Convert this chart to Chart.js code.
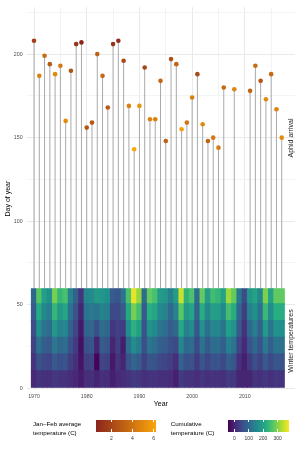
<!DOCTYPE html>
<html lang="en">
<head>
<meta charset="utf-8">
<title>Aphid arrival and winter temperatures</title>
<script src="https://cdn.jsdelivr.net/npm/chart.js@4.4.0/dist/chart.umd.min.js"></script>
<style>
  body { margin: 0; background: #fff; font-family: "Liberation Sans", Arial, sans-serif; }
  #wrap { position: relative; width: 299px; height: 449px; overflow: hidden; }
  .note { position: absolute; font-size: 7px; line-height: 1; color: #1a1a1a; white-space: nowrap;
          transform: translate(-50%, -50%) rotate(-90deg); }
  .legtitle { position: absolute; font-size: 6.2px; line-height: 8.5px; color: #000; white-space: nowrap; }
  .cbar { position: absolute; }
  .cbtick { position: absolute; width: 0.8px; background: #fff; }
  .cblab { position: absolute; font-size: 5px; line-height: 6px; color: #333; transform: translateX(-50%); white-space: nowrap; }
</style>
</head>
<body>
<div id="wrap">
  <canvas id="chart" width="299" height="449"></canvas>
  <div class="note" id="noteAphid">Aphid arrival</div>
  <div class="note" id="noteWinter">Winter temperatures</div>
  <div class="legtitle" style="left:33px; top:420.3px">Jan–Feb average<br>temperature (C)</div>
  <div class="cbar" id="tempBar" style="left:96px; top:420px; width:59.7px; height:11.7px"></div>
  <div class="legtitle" style="left:170.7px; top:420.3px">Cumulative<br>temperature (C)</div>
  <div class="cbar" id="heatBar" style="left:228px; top:420px; width:61px; height:11.7px"></div>
</div>
<script>
  // years on the x axis
  const years = [1970, 1971, 1972, 1973, 1974, 1975, 1976, 1977, 1978, 1979,
                 1980, 1981, 1982, 1983, 1984, 1985, 1986, 1987, 1988, 1989,
                 1990, 1991, 1992, 1993, 1994, 1995, 1996, 1997, 1998, 1999,
                 2000, 2001, 2002, 2003, 2004, 2005, 2006, 2007, 2008, 2009,
                 2010, 2011, 2012, 2013, 2014, 2015, 2016, 2017];

  // day of year of aphid arrival (null = no record)
  const arrivalDay = [208, 187, 199, 194, 188, 193, 160, 190, 206, 207,
                      156, 159, 200, 187, 168, 206, 208, 196, 169, 143,
                      169, 192, 161, 161, 184, 148, 197, 194, 155, 159,
                      174, 188, 158, 148, 150, 144, 180, null, 179, null,
                      null, 178, 193, 184, 173, 188, 167, 150];

  // Jan-Feb average temperature (C), colours the points
  const janFebTemp = [1.7, 4.6, 3.6, 2.9, 5.0, 4.2, 5.0, 2.5, 1.2, 0.55,
                      2.6, 2.8, 3.2, 3.5, 2.9, 1.1, 0.9, 2.2, 4.6, 6.2,
                      5.4, 2.0, 4.8, 4.6, 3.4, 3.2, 2.4, 3.4, 6.0, 4.1,
                      4.5, 2.2, 4.9, 3.3, 4.2, 4.3, 3.6, 5.5, 4.8, 2.2,
                      1.0, 3.3, 3.6, 2.7, 5.0, 3.6, 4.7, 5.0];

  // cumulative winter temperature (C) per block of days, one value per year
  const dayEdges = [0.5, 10.5, 20.5, 30.5, 40.5, 50.5, 59.5];
  const cumDays01to10 = [5, 20, 15, 15, 25, 20, 20, 10, 5, -10,
                         10, 15, 0, 15, 10, -5, 5, 10, 20, 30,
                         25, 15, 20, 20, 15, 15, 10, -5, 30, 20,
                         20, 10, 25, 15, 20, 20, 15, 30, 25, 0,
                         0, 0, 20, 15, 25, 15, 25, 20];
  const cumDays11to20 = [22, 65, 50, 45, 75, 60, 65, 35, 15, -20,
                         35, 40, -40, 45, 40, -15, 20, 0, 65, 95,
                         80, 40, 70, 65, 50, 45, 35, 10, 90, 60,
                         65, 30, 70, 45, 65, 65, 50, 85, 70, 15,
                         -5, 30, 60, 40, 75, 50, 70, 65];
  const cumDays21to30 = [40, 115, 85, 75, 125, 100, 110, 60, 30, -25,
                         60, 70, 0, 80, 70, 0, 35, -10, 110, 160,
                         135, 60, 120, 110, 85, 80, 60, 50, 150, 100,
                         110, 50, 120, 75, 110, 110, 85, 140, 120, 45,
                         5, 65, 100, 65, 130, 85, 120, 115];
  const cumDays31to40 = [58, 165, 120, 105, 180, 145, 155, 90, 45, -15,
                         90, 100, 60, 110, 100, 25, 40, 30, 160, 225,
                         195, 65, 170, 155, 120, 110, 80, 100, 210, 140,
                         160, 70, 170, 110, 150, 150, 120, 195, 170, 75,
                         20, 100, 135, 90, 185, 120, 170, 165];
  const cumDays41to50 = [78, 215, 155, 135, 235, 185, 205, 115, 65, 0,
                         120, 130, 120, 145, 135, 50, 50, 75, 210, 290,
                         250, 75, 220, 205, 155, 145, 100, 145, 270, 180,
                         205, 90, 220, 150, 195, 190, 155, 250, 220, 100,
                         35, 140, 165, 115, 240, 160, 220, 220];
  const cumDays51to59 = [98, 265, 195, 165, 290, 235, 255, 145, 88, 20,
                         148, 158, 185, 178, 168, 78, 68, 118, 255, 365,
                         310, 105, 275, 255, 188, 178, 138, 188, 345, 228,
                         258, 108, 278, 188, 248, 235, 198, 315, 278, 128,
                         55, 178, 198, 148, 295, 198, 275, 275];
  const cumRows = [cumDays01to10, cumDays11to20, cumDays21to30, cumDays31to40, cumDays41to50, cumDays51to59];

  // legend ticks and colour limits
  const tempTicks = [2, 4, 6];
  const tempLimits = [0.55, 6.2];
  const heatTicks = [0, 100, 200, 300];
  const heatLimits = [-43.5, 378];

  // colour scales
  const tempLow = [139, 37, 28], tempHigh = [250, 165, 10];
  const viridis = ['#440154', '#472c7a', '#3b518b', '#2c718e', '#21908d', '#27ad81', '#5cc863', '#aadc32', '#fde725'];

  function hexRgb(h) {
    return [parseInt(h.slice(1, 3), 16), parseInt(h.slice(3, 5), 16), parseInt(h.slice(5, 7), 16)];
  }
  function mix(a, b, t) {
    return 'rgb(' + a.map((v, k) => Math.round(v + (b[k] - v) * t)).join(',') + ')';
  }
  function tempColor(v) {
    let t = (v - tempLimits[0]) / (tempLimits[1] - tempLimits[0]);
    t = Math.max(0, Math.min(1, t));
    return mix(tempLow, tempHigh, t);
  }
  const viridisRgb = viridis.map(hexRgb);
  function heatColor(v) {
    let t = (v - heatLimits[0]) / (heatLimits[1] - heatLimits[0]);
    t = Math.max(0, Math.min(1, t)) * (viridisRgb.length - 1);
    const i = Math.min(Math.floor(t), viridisRgb.length - 2);
    return mix(viridisRgb[i], viridisRgb[i + 1], t - i);
  }

  // points and stems
  var pointData = [], pointColors = [], stemData = [];
  for (var i = 0; i < years.length; i++) {
    if (arrivalDay[i] == null) continue;
    pointData.push({x: years[i], y: arrivalDay[i]});
    pointColors.push(tempColor(janFebTemp[i]));
    stemData.push({x: years[i], y: [0, arrivalDay[i]]});
  }

  var heatSets = cumRows.map(function (row, k) {
    return {
      type: 'bar',
      data: years.map((yr, j) => ({x: yr, y: [dayEdges[k], dayEdges[k + 1]]})),
      backgroundColor: row.map(heatColor),
      borderWidth: 0,
      grouped: false,
      barPercentage: 1,
      categoryPercentage: 1,
      inflateAmount: 0.5
    };
  });

  Chart.defaults.font.family = "'Liberation Sans', Arial, sans-serif";
  var majorGrid = '#e9e9e9', minorGrid = '#f4f4f4';

  var ctx = document.getElementById('chart').getContext('2d');
  var chart = new Chart(ctx, {
    type: 'bar',
    data: {
      datasets: [
        {
          type: 'scatter',
          data: pointData,
          pointBackgroundColor: pointColors,
          pointBorderWidth: 0,
          pointRadius: 2.3
        }
      ].concat(heatSets).concat([
        {
          type: 'bar',
          data: stemData,
          backgroundColor: '#a9a9a9',
          borderWidth: 0,
          barThickness: 1,
          grouped: false,
          inflateAmount: 0
        }
      ])
    },
    options: {
      responsive: false,
      animation: false,
      devicePixelRatio: 1,
      layout: {padding: {left: 0, top: 4, right: 4, bottom: 40}},
      plugins: {legend: {display: false}, tooltip: {enabled: false}},
      scales: {
        x: {
          type: 'linear',
          min: 1968.61,
          max: 2019.52,
          offset: false,
          border: {display: false},
          grid: {
            offset: false,
            drawTicks: false,
            color: c => (c.tick && c.tick.value % 10 === 0) ? majorGrid : minorGrid
          },
          ticks: {
            stepSize: 5,
            includeBounds: false,
            autoSkip: false,
            maxRotation: 0,
            padding: 3,
            color: '#4d4d4d',
            font: {size: 5.3},
            callback: v => v % 10 === 0 ? String(v) : ''
          },
          title: {display: true, text: 'Year', color: '#000', font: {size: 7}, padding: {top: 0, bottom: 0.8}},
          afterFit: s => { s.height = 19; }
        },
        y: {
          min: -1.1,
          max: 228.1,
          border: {display: false},
          grid: {
            drawTicks: false,
            color: c => (c.tick && c.tick.value % 50 === 0) ? majorGrid : minorGrid
          },
          ticks: {
            stepSize: 25,
            includeBounds: false,
            padding: 4,
            color: '#4d4d4d',
            font: {size: 5.3},
            callback: v => v % 50 === 0 ? String(v) : ''
          },
          title: {display: true, text: 'Day of year', color: '#000', font: {size: 7}, padding: {top: 3.8, bottom: 0}},
          afterFit: s => { s.width = 26.7; }
        }
      }
    }
  });

  // annotations placed through the scales
  function place(id, x, y) {
    var el = document.getElementById(id);
    el.style.left = x + 'px';
    el.style.top = y + 'px';
  }
  place('noteAphid', chart.scales.x.getPixelForValue(2018.6), chart.scales.y.getPixelForValue(150));
  place('noteWinter', chart.scales.x.getPixelForValue(2018.6), chart.scales.y.getPixelForValue(28));

  // colour bar legends
  function colourBar(id, limits, ticks, gradient) {
    var bar = document.getElementById(id);
    bar.style.background = gradient;
    var wrap = document.getElementById('wrap');
    var left = parseFloat(bar.style.left), top = parseFloat(bar.style.top);
    var w = parseFloat(bar.style.width), h = parseFloat(bar.style.height);
    ticks.forEach(function (t) {
      var x = left + (t - limits[0]) / (limits[1] - limits[0]) * w;
      [top, top + h - 2.3].forEach(function (ty) {
        var m = document.createElement('div');
        m.className = 'cbtick';
        m.style.left = (x - 0.4) + 'px';
        m.style.top = ty + 'px';
        m.style.height = '2.3px';
        wrap.appendChild(m);
      });
      var lab = document.createElement('div');
      lab.className = 'cblab';
      lab.style.left = x + 'px';
      lab.style.top = (top + h + 2.8) + 'px';
      lab.textContent = String(t);
      wrap.appendChild(lab);
    });
  }
  colourBar('tempBar', tempLimits, tempTicks,
    'linear-gradient(to right, ' + mix(tempLow, tempLow, 0) + ', ' + mix(tempLow, tempHigh, 0.5) + ', ' + mix(tempHigh, tempHigh, 0) + ')');
  colourBar('heatBar', heatLimits, heatTicks, 'linear-gradient(to right, ' + viridis.join(', ') + ')');
</script>
</body>
</html>
